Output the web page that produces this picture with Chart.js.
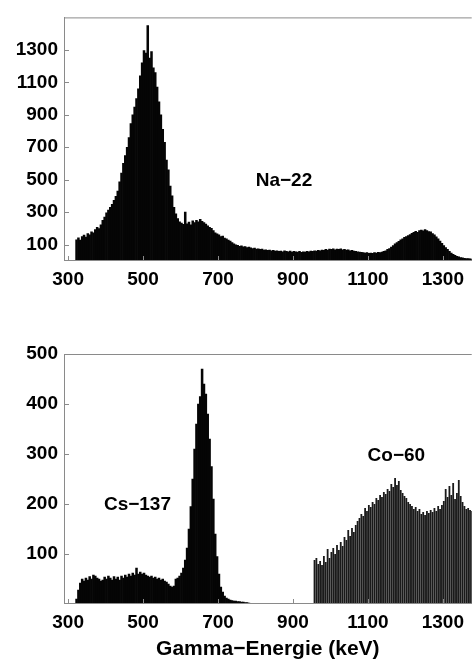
<!DOCTYPE html>
<html>
<head>
<meta charset="utf-8">
<script src="https://cdn.jsdelivr.net/npm/chart.js"></script>
<style>
  body { margin: 0; background: #fff; width: 472px; height: 660px; overflow: hidden; position: relative; }
  canvas { position: absolute; left: 0; }
  #naChart { top: 0; }
  #mixChart { top: 300px; }
</style>
</head>
<body>
<canvas id="naChart" width="472" height="300"></canvas>
<canvas id="mixChart" width="472" height="360"></canvas>
<script>
// histogram bins, 5 keV wide
const binWidth = 5;
const naStart = 320;
const csStart = 320;
const coStart = 955;

const naCounts = [
  130, 142, 128, 150, 158, 146, 168, 160, 178, 172,
  192, 206, 198, 222, 250, 270, 296, 312, 330, 348,
  372, 398, 430, 486, 540, 600, 648, 700, 760, 845,
  900, 948, 1000, 1060, 1140, 1220, 1296, 1280, 1450, 1250,
  1290, 1190, 1160, 1070, 980, 900, 810, 730, 620, 560,
  460, 400, 330, 290, 260, 240, 232, 225, 300, 228,
  238, 222, 246, 236, 250, 240, 256, 244, 235, 226,
  216, 206, 200, 186, 172, 166, 160, 150, 152, 140,
  136, 128, 122, 112, 104, 98, 96, 90, 92, 86,
  88, 82, 84, 80, 76, 78, 72, 74, 70, 72,
  66, 68, 64, 66, 62, 64, 60, 62, 58, 60,
  56, 62, 58, 56, 60, 54, 58, 56, 54, 58,
  52, 56, 54, 58, 56, 60, 58, 62, 60, 64,
  62, 66, 64, 70, 66, 72, 70, 74, 68, 72,
  70, 74, 68, 70, 66, 68, 62, 64, 60, 58,
  56, 54, 52, 50, 48, 50, 46, 48, 46, 50,
  48, 52, 50, 54, 58, 62, 70, 76, 84, 94,
  104, 112, 120, 130, 136, 144, 150, 156, 162, 170,
  176, 182, 176, 186, 190, 184, 192, 186, 180, 178,
  168, 160, 148, 136, 122, 108, 94, 82, 70, 58,
  48, 40, 34, 28, 24, 20, 18, 16, 14, 13,
  12, 11
];

const csCounts = [
  10, 28, 42, 50, 46, 52, 48, 55, 50, 58,
  56, 52, 50, 46, 48, 54, 50, 56, 52, 48,
  55, 50, 54, 48, 56, 52, 58, 54, 60, 56,
  62, 58, 72, 60, 64, 60, 62, 58, 56, 54,
  56, 52, 54, 50, 52, 48, 50, 46, 44, 40,
  36, 34, 36, 50, 52, 56, 62, 72, 88, 112,
  150, 195, 250, 310, 360, 400, 415, 470, 440, 420,
  380, 330, 275, 210, 140, 95, 60, 34, 24, 16,
  12, 10, 8, 7, 6, 6, 5, 5, 4, 4,
  3, 3, 2
];

const coCounts = [
  88, 92, 80, 86, 78, 96, 84, 110, 92, 104,
  112, 100, 118, 108, 124, 116, 134, 128, 148, 136,
  152, 144, 158, 166, 172, 180, 176, 192, 186, 198,
  194, 204, 200, 212, 208, 218, 214, 224, 220, 230,
  226, 240, 234, 252, 238, 246, 228, 222, 216, 212,
  204, 200, 196, 190, 194, 186, 190, 180, 184, 178,
  186, 182, 188, 184, 192, 186, 196, 190, 198, 206,
  230, 214, 236, 218, 242, 210, 222, 248, 216, 204,
  196, 190, 192, 188, 186
];

const energyTicks = [300, 500, 700, 900, 1100, 1300];
const naTicks = [100, 300, 500, 700, 900, 1100, 1300];
const mixTicks = [100, 200, 300, 400, 500];

const naNotes = [{ text: 'Na\u221222', x: 876, y: 492 }];
const mixNotes = [
  { text: 'Cs\u2212137', x: 485, y: 199 },
  { text: 'Co\u221260', x: 1176, y: 296 }
];

const frameColor = '#8a8a8a';
const fontFamily = '"Liberation Sans", Arial, sans-serif';

function toPoints(start, counts) {
  return counts.map((c, i) => ({ x: start + (i + 0.5) * binWidth, y: c }));
}

function barSet(data, color, pct) {
  return {
    type: 'bar',
    data: data,
    backgroundColor: color,
    borderWidth: 0,
    barPercentage: pct,
    categoryPercentage: 1,
    grouped: false
  };
}

// top frame line, inward tick marks and the isotope labels
const framePlugin = {
  id: 'frame',
  afterDatasetsDraw(chart, args, opts) {
    const ctx = chart.ctx;
    const a = chart.chartArea;
    const xs = chart.scales.x;
    const ys = chart.scales.y;
    ctx.save();
    ctx.strokeStyle = frameColor;
    ctx.lineWidth = 1;
    ctx.beginPath();
    ctx.moveTo(a.left, a.top + 0.5);
    ctx.lineTo(a.right, a.top + 0.5);
    xs.ticks.forEach(t => {
      const px = Math.round(xs.getPixelForValue(t.value)) + 0.5;
      ctx.moveTo(px, a.bottom);
      ctx.lineTo(px, a.bottom - 4);
    });
    ys.ticks.forEach(t => {
      const py = Math.round(ys.getPixelForValue(t.value)) + 0.5;
      ctx.moveTo(a.left, py);
      ctx.lineTo(a.left + 5, py);
    });
    ctx.stroke();
    ctx.fillStyle = '#000';
    ctx.font = 'bold 19px ' + fontFamily;
    ctx.textAlign = 'center';
    ctx.textBaseline = 'middle';
    (opts.notes || []).forEach(n => {
      ctx.fillText(n.text, xs.getPixelForValue(n.x), ys.getPixelForValue(n.y));
    });
    ctx.restore();
  }
};

function makeChart(id, datasets, yMin, yMax, yTicks, padTop, xHeight, title, notes) {
  return new Chart(document.getElementById(id), {
    type: 'bar',
    data: { datasets: datasets },
    plugins: [framePlugin],
    options: {
      responsive: false,
      animation: false,
      devicePixelRatio: 1,
      layout: { padding: { top: padTop, left: 0, right: 0, bottom: 0 } },
      plugins: {
        legend: { display: false },
        tooltip: { enabled: false },
        frame: { notes: notes }
      },
      scales: {
        x: {
          type: 'linear',
          min: 289,
          max: 1377,
          offset: false,
          grid: { display: false, drawTicks: false },
          border: { display: true, color: frameColor, width: 1 },
          afterBuildTicks: s => { s.ticks = energyTicks.map(v => ({ value: v })); },
          afterFit: s => { s.height = xHeight; },
          ticks: {
            color: '#000',
            padding: 8,
            maxRotation: 0,
            autoSkip: false,
            callback: v => String(v),
            font: { family: fontFamily, size: 19, weight: 'bold' }
          },
          title: {
            display: !!title,
            text: title || '',
            color: '#000',
            padding: 0,
            font: { family: fontFamily, size: 21, weight: 'bold', lineHeight: 1 }
          }
        },
        y: {
          min: yMin,
          max: yMax,
          grid: { display: false, drawTicks: false },
          border: { display: true, color: frameColor, width: 1 },
          afterBuildTicks: s => { s.ticks = yTicks.map(v => ({ value: v })); },
          afterFit: s => { s.width = 64; },
          ticks: {
            color: '#000',
            padding: 6,
            callback: v => String(v),
            font: { family: fontFamily, size: 19, weight: 'bold' }
          }
        }
      }
    }
  });
}

makeChart('naChart',
  [barSet(toPoints(naStart, naCounts), '#050505', 1)],
  5, 1500, naTicks, 11, 40, null, naNotes);

makeChart('mixChart',
  [barSet(toPoints(csStart, csCounts), '#050505', 1),
   barSet(toPoints(coStart, coCounts), '#1a1a1a', 0.96)],
  2, 500, mixTicks, 54, 57, 'Gamma\u2212Energie (keV)', mixNotes);
</script>
</body>
</html>
